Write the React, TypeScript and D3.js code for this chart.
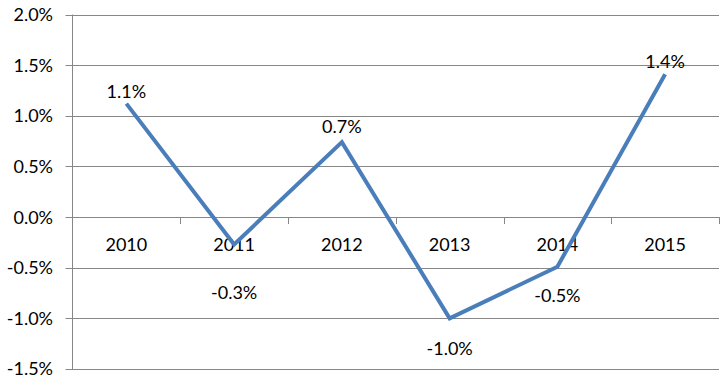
import React from "react";
import * as d3 from "d3";

const categories: string[] = ["2010", "2011", "2012", "2013", "2014", "2015"];
const values: number[] = [1.12, -0.27, 0.74, -1.0, -0.49, 1.41];
const valueLabels: string[] = ["1.1%", "-0.3%", "0.7%", "-1.0%", "-0.5%", "1.4%"];
const yTicks: number[] = [-1.5, -1.0, -0.5, 0, 0.5, 1.0, 1.5, 2.0];

const W = 726;
const H = 382;
const left = 72.5;
const right = 719;
const top = 14.5;
const bottom = 369;
const FONT = "Lato, 'Open Sans', sans-serif";

export default function App() {
  const x = d3.scaleBand<string>().domain(categories).range([left, right]).padding(0);
  const y = d3.scaleLinear().domain([-1.5, 2.0]).range([bottom, top]);
  const line = d3
    .line<number>()
    .x((_, i) => (x(categories[i]) as number) + x.bandwidth() / 2)
    .y((d) => y(d));
  const y0 = y(0);
  const labelOffsets = [-12, 48, -16, 30, 29, -13];

  return (
    <svg
      width={W}
      height={H}
      style={{ position: "absolute", left: 0, top: 0, background: "#fff" }}
      fontFamily={FONT}
    >
      <rect x={0} y={0} width={W} height={H} fill="#fff" />
      {yTicks.map((t) => (
        <g key={t}>
          <line x1={left - 7} x2={right} y1={Math.round(y(t)) + 0.5} y2={Math.round(y(t)) + 0.5} stroke="#878787" strokeWidth={1} />
          <text x={53} y={y(t)} dy="0.36em" textAnchor="end" fontSize={18} fill="#000">
            {t.toFixed(1) + "%"}
          </text>
        </g>
      ))}
      <line x1={left} x2={left} y1={top} y2={bottom} stroke="#878787" strokeWidth={1} />
      {categories.map((c, i) => {
        const bx = (x(c) as number) + x.bandwidth();
        return (
          <line key={"t" + c} x1={Math.round(bx) + 0.5} x2={Math.round(bx) + 0.5} y1={y0} y2={y0 + 7} stroke="#878787" strokeWidth={1} />
        );
      })}
      {categories.map((c) => (
        <text
          key={"c" + c}
          x={(x(c) as number) + x.bandwidth() / 2}
          y={y0 + 27}
          dy="0.36em"
          textAnchor="middle"
          fontSize={18}
          fill="#000"
        >
          {c}
        </text>
      ))}
      <path d={line(values) as string} fill="none" stroke="#4a7ebb" strokeWidth={4} strokeLinejoin="miter" />
      {values.map((v, i) => (
        <text
          key={"v" + i}
          x={(x(categories[i]) as number) + x.bandwidth() / 2}
          y={y(v) + labelOffsets[i]}
          dy="0.36em"
          textAnchor="middle"
          fontSize={18}
          fill="#000"
        >
          {valueLabels[i]}
        </text>
      ))}
    </svg>
  );
}
